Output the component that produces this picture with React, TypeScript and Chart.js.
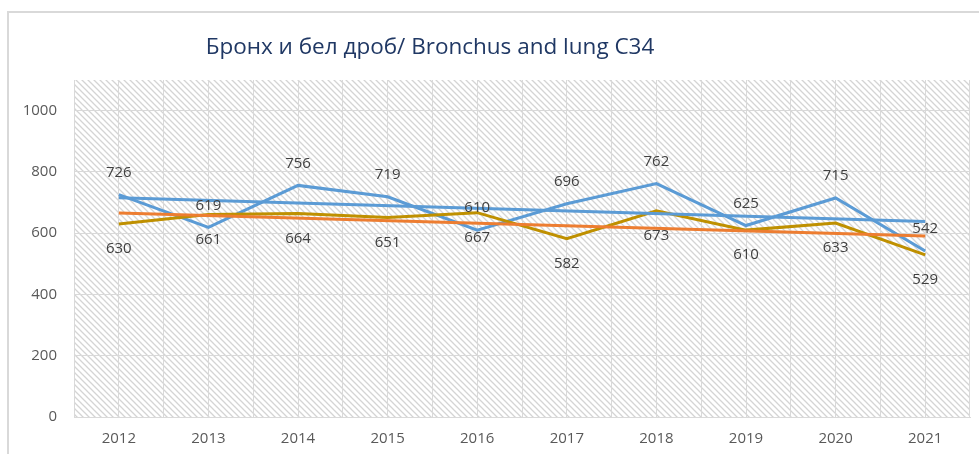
import React, { useEffect, useRef } from "react";
import { Chart, registerables } from "chart.js";

Chart.register(...registerables);

const TITLE = "Бронх и бел дроб/ Bronchus and lung C34";
const years = ["2012", "2013", "2014", "2015", "2016", "2017", "2018", "2019", "2020", "2021"];
const blueSeries = [726, 619, 756, 719, 610, 696, 762, 625, 715, 542];
const goldSeries = [630, 661, 664, 651, 667, 582, 673, 610, 633, 529];
// trend lines: values read at first and last year
const blueTrend = [716, 638];
const orangeTrend = [666, 591];
const yTicks = [0, 200, 400, 600, 800, 1000];

const FONT = "'Open Sans', sans-serif";
const GRID = "#d9d9d9";

function endpoints(pair: number[]) {
  return years.map((_, i) => (i === 0 ? pair[0] : i === years.length - 1 ? pair[1] : null));
}

export default function App() {
  const ref = useRef<HTMLCanvasElement>(null);
  useEffect(() => {
    if (!ref.current) return;
    const tile = document.createElement("canvas");
    const s = 6;
    tile.width = s;
    tile.height = s;
    const tc = tile.getContext("2d")!;
    tc.strokeStyle = "#d4d4d4";
    tc.lineWidth = 1.3;
    tc.beginPath();
    tc.moveTo(-1, -1);
    tc.lineTo(s + 1, s + 1);
    tc.moveTo(-1, s - 1);
    tc.lineTo(1, s + 1);
    tc.moveTo(s - 1, -1);
    tc.lineTo(s + 1, 1);
    tc.stroke();

    const hatch = {
      id: "hatch",
      beforeDraw(chart: any) {
        const { ctx, chartArea } = chart;
        const p = ctx.createPattern(tile, "repeat");
        ctx.save();
        ctx.fillStyle = p;
        ctx.fillRect(chartArea.left, chartArea.top, chartArea.right - chartArea.left, chartArea.bottom - chartArea.top);
        ctx.restore();
      },
    };
    const titlePlugin = {
      id: "titleDraw",
      afterDraw(chart: any) {
        const ctx = chart.ctx;
        ctx.save();
        ctx.font = `22.5px ${FONT}`;
        ctx.fillStyle = "#203864";
        ctx.textAlign = "center";
        ctx.textBaseline = "middle";
        ctx.fillText(TITLE, 421, 35);
        ctx.restore();
      },
    };
    const labelsPlugin = {
      id: "valueLabels",
      afterDatasetsDraw(chart: any) {
        const ctx = chart.ctx;
        ctx.save();
        ctx.font = `15px ${FONT}`;
        ctx.fillStyle = "#404040";
        ctx.textAlign = "center";
        ctx.textBaseline = "middle";
        [0, 1].forEach((di) => {
          const meta = chart.getDatasetMeta(di);
          const vals = chart.data.datasets[di].data;
          meta.data.forEach((pt: any, i: number) => {
            const dy = di === 0 ? -22 : 25;
            ctx.fillText(String(vals[i]), pt.x, pt.y + dy);
          });
        });
        ctx.restore();
      },
    };

    const chart = new Chart(ref.current, {
      type: "line",
      data: {
        labels: years,
        datasets: [
          { label: "blue", data: blueSeries, borderColor: "#5b9bd5", borderWidth: 3, pointRadius: 0, order: 4, tension: 0 },
          { label: "gold", data: goldSeries, borderColor: "#bf9000", borderWidth: 3, pointRadius: 0, order: 3, tension: 0 },
          { label: "blueTrend", data: endpoints(blueTrend), borderColor: "#5b9bd5", borderWidth: 3, pointRadius: 0, spanGaps: true, order: 2 },
          { label: "orangeTrend", data: endpoints(orangeTrend), borderColor: "#ed7d31", borderWidth: 3, pointRadius: 0, spanGaps: true, order: 1 },
        ],
      },
      options: {
        responsive: false,
        animation: false,
        layout: { padding: { left: 12, right: 9, top: 67, bottom: -7 } },
        plugins: { legend: { display: false }, tooltip: { enabled: false }, title: { display: false } },
        scales: {
          x: {
            type: "category",
            offset: true,
            grid: { offset: true, color: GRID, drawTicks: false },
            border: { color: GRID },
            ticks: { color: "#595959", font: { family: FONT, size: 15 }, padding: 13 },
            afterFit: (axis: any) => {
              axis.paddingLeft = 0;
              axis.paddingRight = 0;
            },
          },
          x2: {
            type: "category",
            position: "top",
            offset: true,
            grid: { offset: false, color: GRID, drawTicks: false },
            border: { display: false },
            ticks: { display: false },
            afterFit: (axis: any) => {
              axis.paddingLeft = 0;
              axis.paddingRight = 0;
            },
          },
          y: {
            min: 0,
            max: 1100,
            afterBuildTicks: (axis: any) => {
              axis.ticks = yTicks.map((v) => ({ value: v }));
            },
            afterFit: (axis: any) => {
              axis.width = 53;
              axis.paddingTop = 0;
              axis.paddingBottom = 0;
            },
            grid: { color: GRID, drawTicks: false },
            border: { display: false },
            ticks: {
              color: "#595959",
              font: { family: FONT, size: 15 },
              padding: 17,
              callback: (v: any) => String(v),
            },
          },
        },
      },
      plugins: [hatch, titlePlugin, labelsPlugin],
    });
    return () => chart.destroy();
  }, []);

  return (
    <div
      style={{
        position: "absolute",
        left: 7,
        top: 11,
        width: 972,
        height: 443,
        borderLeft: "2px solid #d9d9d9",
        borderTop: "2px solid #d9d9d9",
        boxSizing: "border-box",
        background: "#fff",
      }}
    >
      <canvas ref={ref} width={970} height={441} style={{ display: "block" }} />
    </div>
  );
}
